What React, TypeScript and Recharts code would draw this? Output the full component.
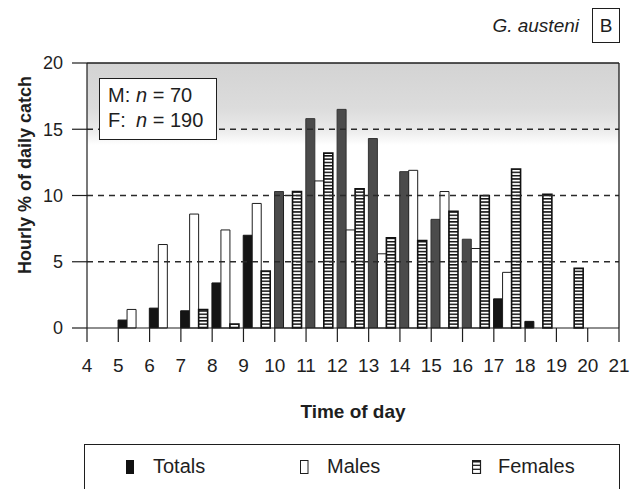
import { BarChart, Bar, XAxis, YAxis, ReferenceLine, ReferenceArea, Legend, Cell } from 'recharts'

// hourly intervals start at these hours (bars sit between ticks)
const hours = [4, 5, 6, 7, 8, 9, 10, 11, 12, 13, 14, 15, 16, 17, 18, 19, 20]
const hourTicks = [4, 5, 6, 7, 8, 9, 10, 11, 12, 13, 14, 15, 16, 17, 18, 19, 20, 21]
const yTicks = [0, 5, 10, 15, 20]
const gridLevels = [5, 10, 15]

const totals = [0, 0.6, 1.5, 1.3, 3.4, 7.0, 10.3, 15.8, 16.5, 14.3, 11.8, 8.2, 6.7, 2.2, 0.5, 0, 0]
const males = [0, 1.4, 6.3, 8.6, 7.4, 9.4, 10.0, 11.1, 7.4, 5.6, 11.9, 10.3, 6.0, 4.2, 0, 0, 0]
const females = [0, 0, 0, 1.4, 0.3, 4.3, 10.3, 13.2, 10.5, 6.8, 6.6, 8.8, 10.0, 12.0, 10.1, 4.5, 0]

const data = hours.map((hour, i) => ({ hour, totals: totals[i], males: males[i], females: females[i] }))

const FONT = '"Liberation Sans", Arial, Helvetica, sans-serif'
const INK = '#1e1e1e'

const YTitle = ({ viewBox }: any) => {
  const cx = viewBox.x + 25
  const cy = viewBox.y + 112
  return (
    <text
      transform={`translate(${cx},${cy}) rotate(-90)`}
      textAnchor="middle"
      dominantBaseline="central"
      fontFamily={FONT}
      fontSize={18}
      fontWeight="bold"
      fill={INK}
    >
      Hourly % of daily catch
    </text>
  )
}

const LegendBox = () => {
  const label = { position: 'absolute' as const, top: 10, fontSize: 20, color: INK }
  return (
    <div
      style={{
        position: 'relative',
        height: 45,
        boxSizing: 'border-box',
        borderTop: `1.5px solid ${INK}`,
        borderLeft: `1.5px solid ${INK}`,
        borderRight: `1.5px solid ${INK}`,
        fontFamily: FONT,
      }}
    >
      <svg width={8} height={14} style={{ position: 'absolute', left: 41, top: 15 }}>
        <rect x={0.5} y={0.5} width={7} height={13} fill="#111" stroke="#111" />
      </svg>
      <span style={{ ...label, left: 68 }}>Totals</span>
      <svg width={9} height={14} style={{ position: 'absolute', left: 215, top: 15 }}>
        <rect x={0.5} y={0.5} width={7.5} height={13} fill="#fff" stroke={INK} />
      </svg>
      <span style={{ ...label, left: 242 }}>Males</span>
      <svg width={10} height={14} style={{ position: 'absolute', left: 387, top: 15 }}>
        <rect x={0.5} y={0.5} width={8} height={13} fill="#fff" stroke={INK} strokeWidth={1.2} />
        <rect x={0.5} y={0.5} width={8} height={2} fill={INK} />
        <line x1={0.5} x2={8.5} y1={5.3} y2={5.3} stroke={INK} strokeWidth={1.3} />
        <line x1={0.5} x2={8.5} y1={9.3} y2={9.3} stroke={INK} strokeWidth={1.3} />
      </svg>
      <span style={{ ...label, left: 413 }}>Females</span>
    </div>
  )
}

export default function App() {
  return (
    <div style={{ position: 'absolute', left: 0, top: 0, width: 637, height: 489, background: '#fff', fontFamily: FONT }}>
      <BarChart
        width={637}
        height={489}
        data={data}
        margin={{ top: 63, right: 18, bottom: 0, left: 0 }}
        barGap={0}
        barCategoryGap="8.8%"
      >
        <defs>
          <linearGradient id="shade" x1="0" y1="0" x2="0" y2="1">
            <stop offset="0%" stopColor="#d3d3d3" />
            <stop offset="55%" stopColor="#dcdcdc" />
            <stop offset="80%" stopColor="#e9e9e9" />
            <stop offset="100%" stopColor="#ffffff" />
          </linearGradient>
          <pattern id="hstripe" patternUnits="userSpaceOnUse" width={8} height={3.3}>
            <rect width={8} height={3.3} fill="#fff" />
            <rect width={8} height={1.5} fill="#111" />
          </pattern>
        </defs>

        <XAxis dataKey="hour" type="category" hide height={0} padding={{ left: -3, right: 3 }} />
        <XAxis
          xAxisId="hours"
          type="number"
          dataKey="hour"
          domain={[4, 21]}
          ticks={hourTicks}
          interval={0}
          allowDataOverflow
          height={116}
          tickSize={14}
          tickMargin={17}
          tick={{ fontSize: 19, fill: INK, fontFamily: FONT }}
          axisLine={{ stroke: INK, strokeWidth: 1.2 }}
          tickLine={{ stroke: INK, strokeWidth: 1.2 }}
          label={{
            value: 'Time of day',
            position: 'insideBottom',
            offset: 26,
            style: { fontSize: 19, fontWeight: 'bold', fill: INK, fontFamily: FONT },
          }}
        />
        <YAxis
          domain={[0, 20]}
          ticks={yTicks}
          interval={0}
          width={87}
          tickSize={15}
          tickMargin={9}
          tick={{ fontSize: 18, fill: INK, fontFamily: FONT }}
          axisLine={{ stroke: INK, strokeWidth: 1.2 }}
          tickLine={{ stroke: INK, strokeWidth: 1.2 }}
          label={{ value: 'Hourly % of daily catch', content: YTitle }}
        />

        <ReferenceArea xAxisId="hours" x1={4} x2={21} y1={13.8} y2={20} fill="url(#shade)" fillOpacity={1} stroke="none" />
        {gridLevels.map((v) => (
          <ReferenceLine key={v} xAxisId="hours" y={v} stroke="#2a2a2a" strokeWidth={1.3} strokeDasharray="6 5" />
        ))}
        <ReferenceLine xAxisId="hours" y={20} stroke={INK} strokeWidth={1.5} />
        <ReferenceLine xAxisId="hours" x={21} stroke={INK} strokeWidth={1.3} />

        <Bar dataKey="totals" fill="#141414" stroke="#141414" strokeWidth={1} isAnimationActive={false}>
          {data.map((d) => (
            <Cell key={d.hour} fill={d.hour >= 10 && d.hour <= 16 ? '#4b4b4b' : '#141414'} stroke={d.hour >= 10 && d.hour <= 16 ? '#333' : '#141414'} />
          ))}
        </Bar>
        <Bar dataKey="males" fill="#fff" stroke={INK} strokeWidth={1} isAnimationActive={false} />
        <Bar dataKey="females" fill="url(#hstripe)" stroke="#111" strokeWidth={1.6} isAnimationActive={false} />

        <Legend verticalAlign="bottom" content={LegendBox} wrapperStyle={{ left: 84, width: 536, bottom: 0 }} />
      </BarChart>

      {/* species name and panel letter */}
      <div style={{ position: 'absolute', right: 58, top: 15, fontSize: 19, fontStyle: 'italic', color: INK }}>G. austeni</div>
      <div
        style={{
          position: 'absolute',
          left: 592,
          top: 8,
          width: 28,
          height: 35,
          boxSizing: 'border-box',
          border: `1px solid ${INK}`,
          fontSize: 19,
          color: INK,
          display: 'flex',
          alignItems: 'center',
          justifyContent: 'center',
        }}
      >
        B
      </div>

      {/* sample sizes */}
      <div
        style={{
          position: 'absolute',
          left: 99,
          top: 78,
          width: 118,
          height: 62,
          boxSizing: 'border-box',
          border: `1.5px solid ${INK}`,
          background: '#fff',
          fontSize: 20,
          lineHeight: '20px',
          color: INK,
        }}
      >
        <span style={{ position: 'absolute', left: 8, top: 6 }}>M:</span>
        <span style={{ position: 'absolute', left: 36, top: 6 }}>
          <i>n</i> = 70
        </span>
        <span style={{ position: 'absolute', left: 8, top: 31 }}>F:</span>
        <span style={{ position: 'absolute', left: 36, top: 31 }}>
          <i>n</i> = 190
        </span>
      </div>
    </div>
  )
}
